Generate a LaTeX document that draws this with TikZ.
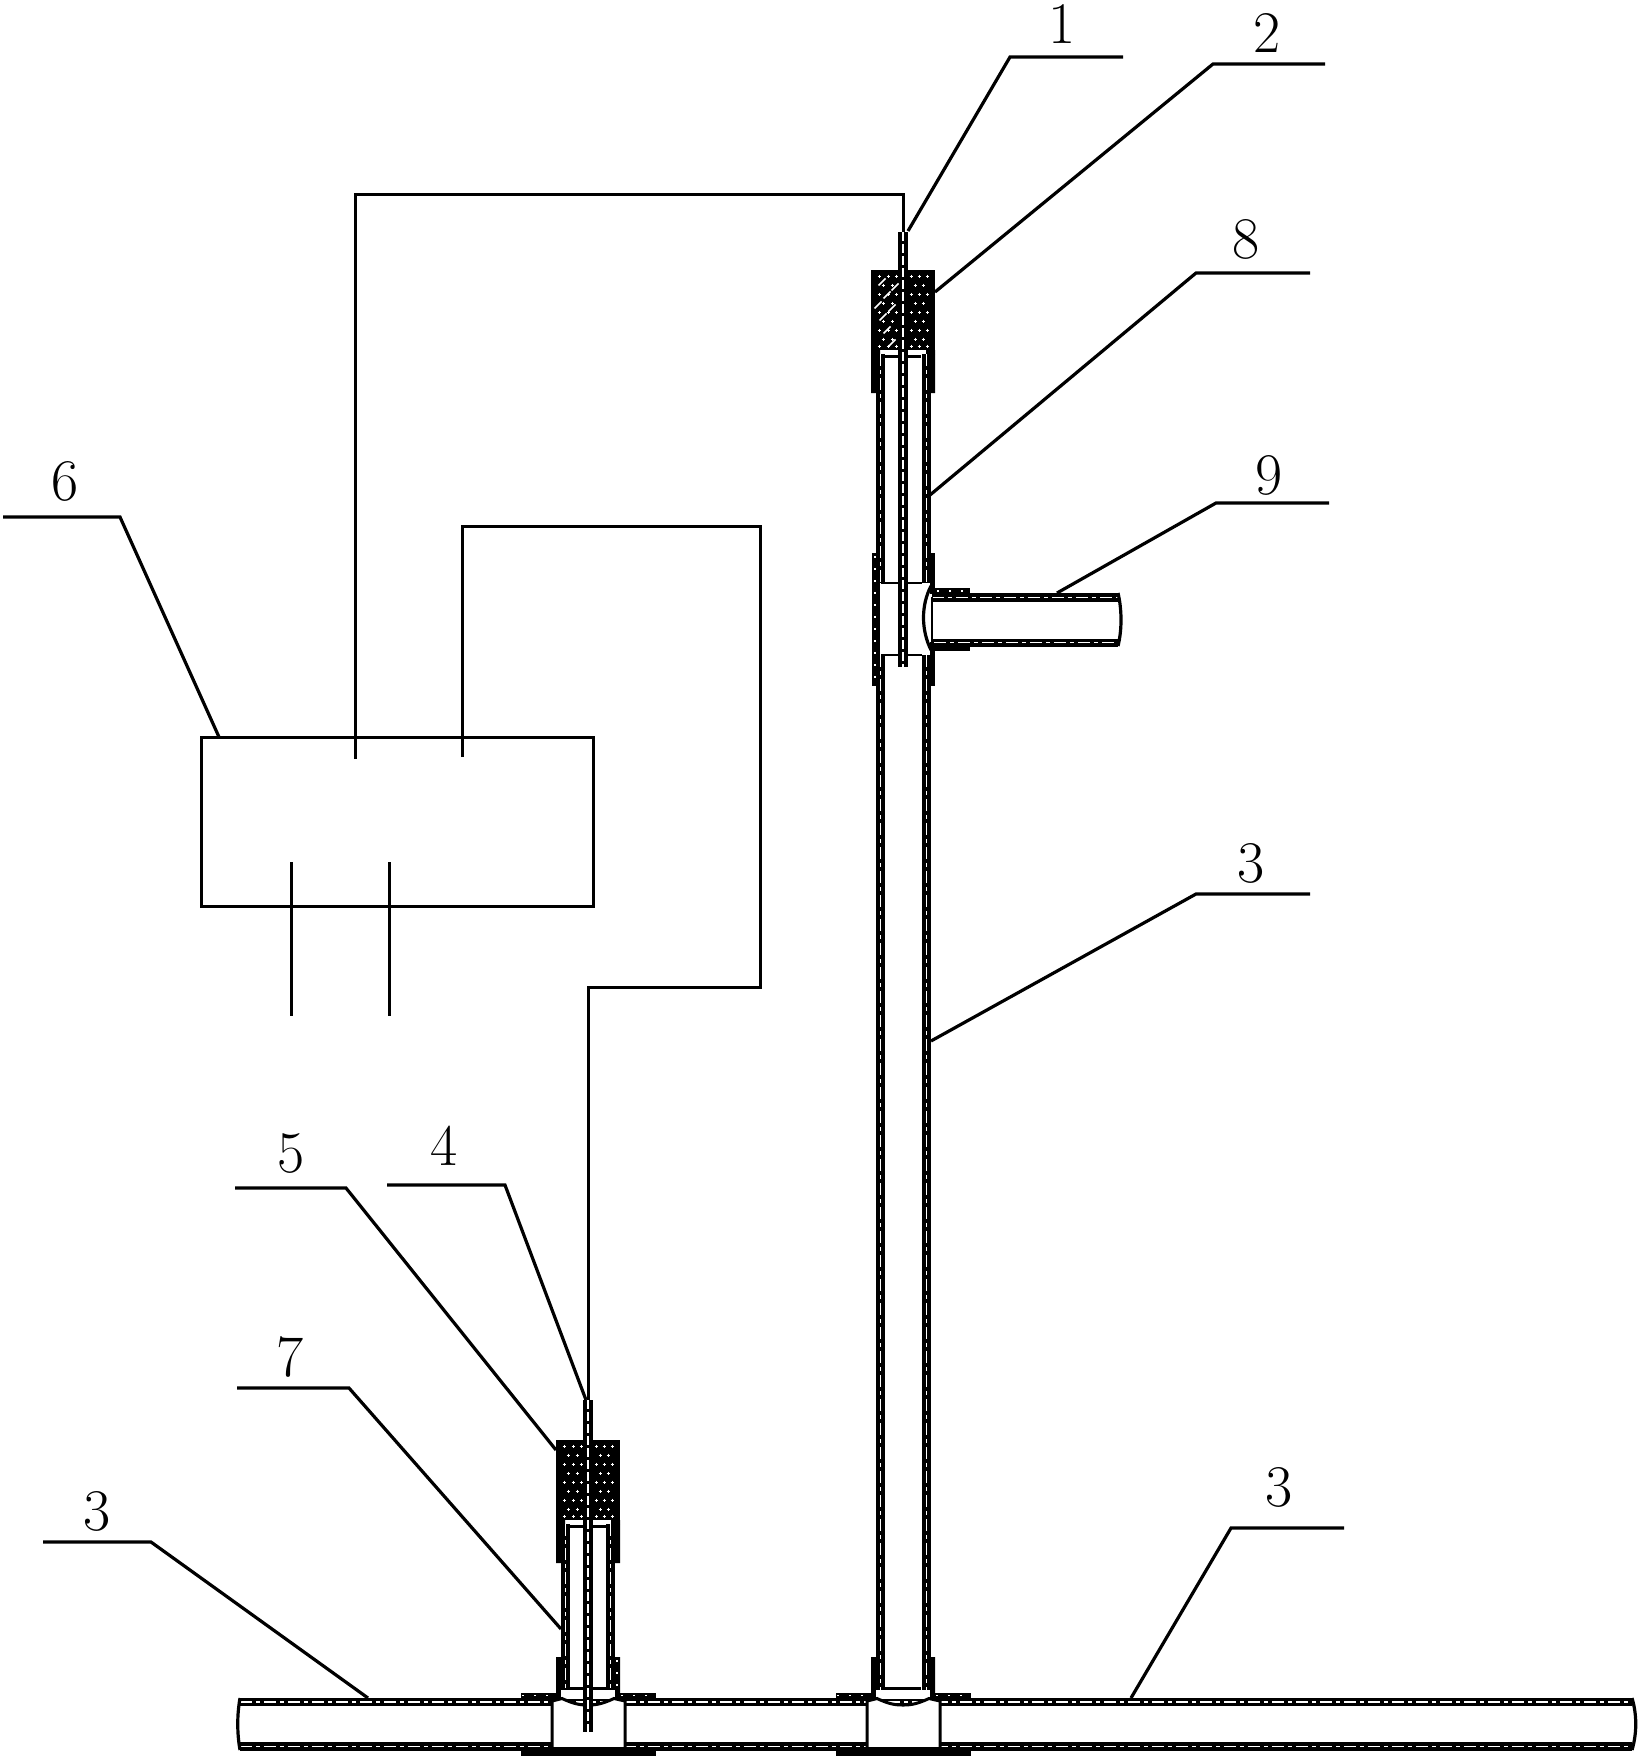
\documentclass[tikz,border=0pt]{standalone}
\tikzset{
  thinline/.style={line width=1.6pt,black},
  wire/.style={line width=1.5pt,black},
  wallline/.style={draw=black,line width=4.4pt,
    postaction={draw=white,line width=0.7pt,dash pattern=on 6pt off 2pt on 2pt off 2pt}},
  probeline/.style={draw=black,line width=4.6pt,line cap=square,
    postaction={draw=white,line width=1.1pt,line cap=butt,dash pattern=on 4.5pt off 1.5pt}},
  dotline/.style={draw=white,line width=0.6pt,dash pattern=on 1pt off 5pt},
  speck/.style={draw=white,line width=0.5pt},
  slash/.style={draw=white,line width=0.8pt},
  numlabel/.style={inner sep=0pt,font=\fontsize{29.5}{30}\selectfont},
  ctrlbox/.style={draw=black,line width=1.5pt,inner sep=0pt,minimum width=196pt,minimum height=84.5pt},
}
% cap assembly: stippled plug with sleeve; origin at plug top centre
\newcommand{\capunit}[2]{%
  \begin{scope}[shift={(#1,#2)}]
    \fill[black] (-32,0) rectangle (32,80);
    \fill[black] (-32,80) rectangle (-23,84) (23,80) rectangle (32,84);
    \fill[black] (-32,84) rectangle (-26,123) (26,84) rectangle (32,123);
    \foreach \v in {6,24,42,60,76}{\foreach \u in {-24,-15,-7,8,16,24}{
      \draw[speck] (\u-1.5,\v)--(\u+1.5,\v) (\u,\v-1.5)--(\u,\v+1.5);}}
    \foreach \v in {15,33,51,69}{\foreach \u in {-20,-11,12,20}{
      \draw[speck] (\u-1.5,\v)--(\u+1.5,\v) (\u,\v-1.5)--(\u,\v+1.5);}}
    \draw[line width=1.5pt] (-18,86)--(18,86);
  \end{scope}}
% foot assembly: saddle and tee block on the horizontal pipe; origin at centre, y absolute
\newcommand{\footunit}[1]{%
  \begin{scope}[shift={(#1,0)}]
    \fill[black] (-32,1657) rectangle (-27,1698) (27,1657) rectangle (32,1698);
    \fill[black] (-67,1693) rectangle (68,1698);
    \draw[dotline] (-66,1695.5)--(-33,1695.5) (33,1695.5)--(67,1695.5);
    \fill[black] (-67,1751) rectangle (68,1756);
    \draw[line width=1.5pt] (-18,1688.5)--(18,1688.5);
    \fill[white] (-27,1690) rectangle (27,1699);
    \filldraw[fill=white,draw=black,line width=1.5pt]
      (-36,1747.5)--(-36,1701)--(-26,1698.5)
      .. controls (-14,1704) and (-8,1705) .. (0,1705)
      .. controls (8,1705) and (14,1704) .. (26,1698.5)
      --(37,1701)--(37,1747.5);
    \fill[black] (-37,1747) rectangle (38,1751);
  \end{scope}}
\begin{document}
\begin{tikzpicture}[x=0.5pt,y=-0.5pt]
\useasboundingbox (0,0) rectangle (1648,1760);
% named end points
\coordinate (p1) at (903,232);
\coordinate (p4) at (588,1400);
\coordinate (w1) at (355,759);
\coordinate (w2) at (462,757);
\coordinate (w3) at (291,862);
\coordinate (w3e) at (291,1016);
\coordinate (w4) at (389,862);
\coordinate (w4e) at (389,1016);
% horizontal pipe
\draw[wallline] (240,1702)--(1632,1702);
\draw[wallline] (240,1746.5)--(1632,1746.5);
\draw[thinline] (240,1698) .. controls (237,1715) and (237,1733) .. (240,1750);
\draw[thinline] (1632,1698) .. controls (1637,1715) and (1637,1733) .. (1632,1750);
% upper riser
\capunit{903}{270}
\draw[wallline] (880.5,354)--(880.5,583);
\draw[wallline] (926.5,354)--(926.5,583);
\draw[wallline] (880.5,655)--(880.5,1698);
\draw[wallline] (926.5,655)--(926.5,1698);
% branch tee
\fill[black] (872,553) rectangle (876,686);
\fill[black] (876,583) rectangle (880,655);
\draw[dotline] (875,556)--(875,684);
\fill[black] (930,553) rectangle (935,594);
\fill[black] (930,642) rectangle (935,686);
\draw[line width=1.25pt] (881,583)--(922,583) (881,655)--(922,655);
\draw[thinline] (931,586) .. controls (921,605) and (921,630) .. (931,650);
\draw[wallline] (932,597.5)--(1118,597.5);
\draw[line width=4pt,draw=black] (932,642.5)--(1118,642.5);
\draw[draw=white,line width=0.7pt,dash pattern=on 6pt off 2pt on 2pt off 2pt] (934,642.5)--(1116,642.5);
\draw[line width=1pt] (932,597)--(932,642);
\fill[black] (935,588) rectangle (970,594);
\draw[dotline] (937,591)--(968,591);
\fill[black] (935,646) rectangle (970,651);
\draw[thinline] (1118,593) .. controls (1122,610) and (1122,630) .. (1118,646);
\footunit{903}
% upper probe
\draw[probeline] (p1)--(903,667);
% slashes of the upper plug
\foreach \u/\v in {-21/12,-8/17,-16/25,-25/35,-11/38,-20/47,-16/60,-11/73}{
  \draw[slash] (903+\u-3.5,270+\v+3.5)--(903+\u+3.5,270+\v-3.5);}
% lower riser
\capunit{588}{1440}
\draw[wallline] (565.5,1524)--(565.5,1698);
\draw[wallline] (610.5,1524)--(610.5,1698);
\footunit{588}
\draw[dotline] (617,1660)--(617,1692);
\draw[probeline] (p4)--(588,1732);
% control box and wires
\node[ctrlbox] (box) at (397,821.5) {};
\draw[wire] (w1)--(355,195)--(903,195)--(p1);
\draw[wire] (w2)--(462,526)--(760,526)--(760,987)--(588,987)--(p4);
\draw[wire] (w3)--(w3e);
\draw[wire] (w4)--(w4e);
% leaders
\draw[thinline] (908,231)--(1010,57)--(1123,57);
\draw[thinline] (935,292)--(1213,64)--(1325,64);
\draw[thinline] (930,495)--(1196,273)--(1310,273);
\draw[thinline] (1057,593)--(1216,503)--(1329,503);
\draw[thinline] (931,1041)--(1196,894)--(1310,894);
\draw[thinline] (1131,1698)--(1231,1528)--(1344,1528);
\draw[thinline] (368,1698)--(151,1542)--(43,1542);
\draw[thinline] (561,1629)--(349,1388)--(237,1388);
\draw[thinline] (556,1450)--(346,1188)--(235,1188);
\draw[thinline] (586,1400)--(505,1185)--(387,1185);
\draw[thinline] (219,737)--(120,517)--(3,517);
% labels
\node[numlabel] (n1) at (1062,24) {1};
\node[numlabel] (n2) at (1267,33) {2};
\node[numlabel] (n8) at (1246,239) {8};
\node[numlabel] (n9) at (1269,475) {9};
\node[numlabel] (n3a) at (1251,863) {3};
\node[numlabel] (n3b) at (1279,1487) {3};
\node[numlabel] (n3c) at (97,1511) {3};
\node[numlabel] (n6) at (65,481) {6};
\node[numlabel] (n5) at (291,1153) {5};
\node[numlabel] (n4) at (444,1146) {4};
\node[numlabel] (n7) at (290,1357) {7};
\end{tikzpicture}
\end{document}
